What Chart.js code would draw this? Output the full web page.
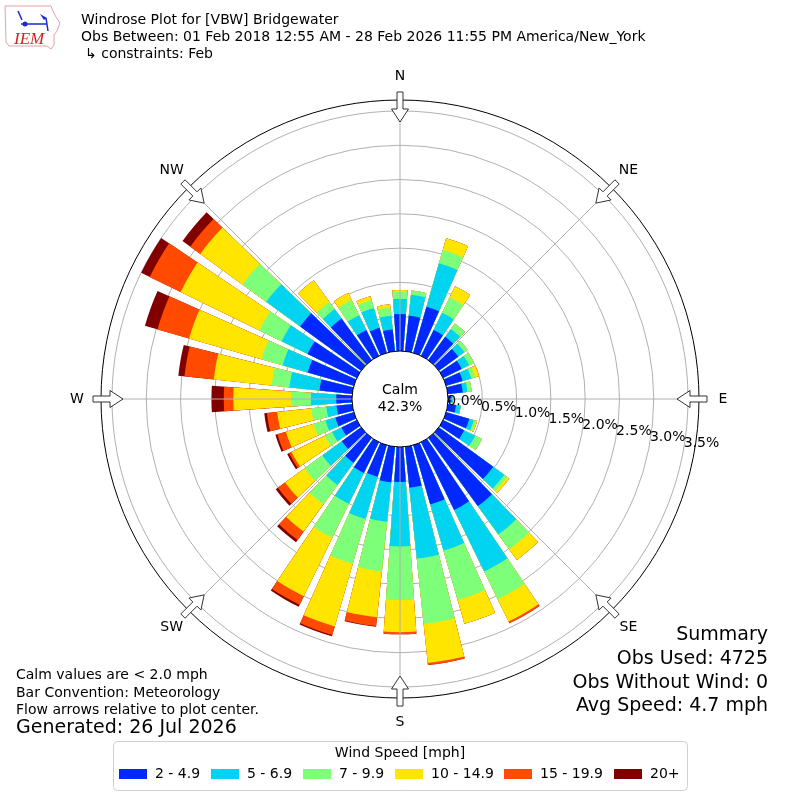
<!DOCTYPE html>
<html>
<head>
<meta charset="utf-8">
<title>Windrose VBW</title>
<script src="https://cdn.jsdelivr.net/npm/chart.js@4.4.1/dist/chart.umd.min.js"></script>
<style>
    html, body { margin: 0; padding: 0; background: #fff; }
</style>
</head>
<body>
<canvas id="graficoVento" width="800" height="800"></canvas>
<script>
// direcoes de 10 em 10 graus, valores em % das observacoes
const direcoes = [0, 10, 20, 30, 40, 50, 60, 70, 80, 90, 100, 110, 120, 130, 140, 150, 160, 170,
    180, 190, 200, 210, 220, 230, 240, 250, 260, 270, 280, 290, 300, 310, 320, 330, 340, 350];

const vel2a5 = [0.54, 0.52, 0.70, 0.42, 0.42, 0.35, 0.30, 0.25, 0.22, 0.05, 0.12, 0.35, 0.34, 0.98, 1.23, 1.10, 0.90, 0.60,
    0.51, 0.52, 0.48, 0.50, 0.45, 0.35, 0.25, 0.28, 0.23, 0.23, 0.48, 0.70, 0.80, 1.10, 0.75, 0.42, 0.38, 0.32];
const vel5a7 = [0.22, 0.31, 0.66, 0.28, 0.14, 0.11, 0.12, 0.13, 0.07, 0.02, 0.07, 0.07, 0.18, 0.20, 0.51, 1.00, 0.70, 1.04,
    0.94, 0.58, 0.64, 0.50, 0.40, 0.35, 0.15, 0.15, 0.15, 0.37, 0.44, 0.38, 0.42, 0.61, 0.17, 0.24, 0.30, 0.20];
const vel7a10 = [0.10, 0.06, 0.20, 0.25, 0.10, 0.06, 0.08, 0.06, 0.06, 0, 0, 0.03, 0.11, 0.05, 0.27, 0.45, 0.75, 0.96,
    0.78, 0.73, 0.68, 0.55, 0.35, 0.32, 0.12, 0.18, 0.22, 0.29, 0.26, 0.32, 0.36, 0.43, 0.13, 0.25, 0.12, 0.12];
const vel10a15 = [0.03, 0, 0.18, 0.18, 0, 0, 0, 0.06, 0, 0, 0, 0.02, 0, 0.04, 0.19, 0.36, 0.36, 0.57,
    0.47, 0.67, 0.95, 0.95, 0.49, 0.35, 0.54, 0.42, 0.50, 0.84, 0.85, 1.10, 1.28, 0.76, 0.39, 0.11, 0.06, 0.05];
const vel15a20 = [0, 0, 0, 0, 0, 0, 0, 0, 0, 0, 0, 0, 0, 0, 0, 0.03, 0, 0.03,
    0.03, 0.13, 0.13, 0.14, 0.15, 0.13, 0.04, 0.13, 0.15, 0.14, 0.43, 0.48, 0.50, 0.18, 0, 0, 0, 0];
const vel20mais = [0, 0, 0, 0, 0, 0, 0, 0, 0, 0, 0, 0, 0, 0, 0, 0, 0, 0,
    0, 0.01, 0.02, 0.03, 0.04, 0.04, 0.03, 0.03, 0.04, 0.18, 0.09, 0.19, 0.14, 0.14, 0, 0, 0, 0];

const faixas = ['2 - 4.9', '5 - 6.9', '7 - 9.9', '10 - 14.9', '15 - 19.9', '20+'];
const cores = ['#0028ff', '#00d4f0', '#7dff7a', '#ffe500', '#ff4a00', '#800000'];
const ticksPct = [0, 0.5, 1.0, 1.5, 2.0, 2.5, 3.0, 3.5];
const cardeais = ['N', 'NE', 'E', 'SE', 'S', 'SW', 'W', 'NW'];
const calmo = 42.3;

const MIN_R = -0.7;
const MAX_R = 3.66;
const FONTE = '"DejaVu Sans", sans-serif';

function acumular() {
    const series = [vel2a5, vel5a7, vel7a10, vel10a15, vel15a20, vel20mais];
    const acumuladas = [];
    let soma = direcoes.map(() => 0);
    for (let serie of series) {
        soma = soma.map((v, i) => v + serie[i]);
        acumuladas.push(soma.slice());
    }
    return acumuladas;
}

// cada direcao vira uma fatia de 8 graus seguida de um vao de 2 graus
function intercalar(valores) {
    const dados = [];
    valores.forEach(v => {
        dados.push(v);
        dados.push(MIN_R);
    });
    return dados;
}

function desenharLogo(ctx) {
    ctx.save();
    ctx.strokeStyle = '#e8a0a0';
    ctx.lineWidth = 1;
    ctx.beginPath();
    ctx.moveTo(5, 6);
    ctx.lineTo(51, 6);
    ctx.lineTo(53, 11);
    ctx.lineTo(56, 17);
    ctx.lineTo(60, 23);
    ctx.lineTo(57, 31);
    ctx.lineTo(54, 35);
    ctx.lineTo(54, 45);
    ctx.lineTo(51, 49);
    ctx.lineTo(47, 46);
    ctx.lineTo(9, 46);
    ctx.lineTo(6, 42);
    ctx.closePath();
    ctx.stroke();

    ctx.strokeStyle = '#1a2bd0';
    ctx.fillStyle = '#1a2bd0';
    ctx.lineWidth = 1.5;
    ctx.beginPath();
    ctx.moveTo(21, 24);
    ctx.lineTo(47, 24);
    ctx.moveTo(18, 11);
    ctx.lineTo(22, 20);
    ctx.moveTo(46, 18);
    ctx.lineTo(48, 31);
    ctx.stroke();
    ctx.beginPath();
    ctx.arc(25, 24, 2.5, 0, 2 * Math.PI);
    ctx.fill();
    ctx.beginPath();
    ctx.moveTo(40, 14);
    ctx.lineTo(47, 18);
    ctx.lineTo(44, 20);
    ctx.closePath();
    ctx.fill();

    ctx.fillStyle = '#d42020';
    ctx.font = 'italic 17px "Liberation Serif", serif';
    ctx.textAlign = 'left';
    ctx.textBaseline = 'alphabetic';
    ctx.fillText('IEM', 14, 44);
    ctx.restore();
}

function desenharSeta(ctx, cx, cy, grau) {
    const a = grau * Math.PI / 180;
    const ux = Math.sin(a), uy = -Math.cos(a);
    const nx = Math.cos(a), ny = Math.sin(a);
    const ponto = (r, w) => [cx + ux * r + nx * w, cy + uy * r + ny * w];
    const pontos = [
        ponto(277, 0), ponto(290, 8.5), ponto(290, 3), ponto(307, 3),
        ponto(307, -3), ponto(290, -3), ponto(290, -8.5)
    ];
    ctx.beginPath();
    ctx.moveTo(pontos[0][0], pontos[0][1]);
    for (let i = 1; i < pontos.length; i++) {
        ctx.lineTo(pontos[i][0], pontos[i][1]);
    }
    ctx.closePath();
    ctx.fillStyle = '#fff';
    ctx.fill();
    ctx.strokeStyle = '#333';
    ctx.lineWidth = 1;
    ctx.stroke();
}

function desenharLegenda(ctx) {
    ctx.save();
    ctx.beginPath();
    ctx.roundRect(113.5, 741.5, 574, 49, 4);
    ctx.fillStyle = '#fff';
    ctx.fill();
    ctx.strokeStyle = '#d0d0d0';
    ctx.lineWidth = 1;
    ctx.stroke();

    ctx.fillStyle = '#000';
    ctx.font = '14px ' + FONTE;
    ctx.textAlign = 'center';
    ctx.textBaseline = 'middle';
    ctx.fillText('Wind Speed [mph]', 400, 753);

    const inicioX = [119, 211, 303, 395, 504, 614];
    ctx.textAlign = 'left';
    faixas.forEach((faixa, i) => {
        ctx.fillStyle = cores[i];
        ctx.fillRect(inicioX[i], 769, 28, 10);
        ctx.fillStyle = '#000';
        ctx.fillText(faixa, inicioX[i] + 36, 774);
    });
    ctx.restore();
}

const decoracao = {
    id: 'decoracao',
    afterDraw(chart) {
        const ctx = chart.ctx;
        const escala = chart.scales.r;
        const cx = escala.xCenter;
        const cy = escala.yCenter;
        const raioCalmo = escala.getDistanceFromCenterForValue(0);
        const raioFora = escala.getDistanceFromCenterForValue(MAX_R);

        ctx.save();
        ctx.strokeStyle = '#b0b0b0';
        ctx.lineWidth = 1;
        for (let i = 0; i < 8; i++) {
            const a = i * Math.PI / 4;
            ctx.beginPath();
            ctx.moveTo(cx, cy);
            ctx.lineTo(cx + raioFora * Math.sin(a), cy - raioFora * Math.cos(a));
            ctx.stroke();
        }

        ctx.beginPath();
        ctx.arc(cx, cy, raioCalmo, 0, 2 * Math.PI);
        ctx.fillStyle = '#fff';
        ctx.fill();
        ctx.strokeStyle = '#000';
        ctx.stroke();

        ctx.fillStyle = '#000';
        ctx.font = '14px ' + FONTE;
        ctx.textAlign = 'center';
        ctx.textBaseline = 'middle';
        ctx.fillText('Calm', cx, cy - 9);
        ctx.fillText(calmo.toFixed(1) + '%', cx, cy + 8);

        // rotulos das porcentagens a 100 graus
        const angTick = 100 * Math.PI / 180;
        ctx.textAlign = 'left';
        ctx.textBaseline = 'bottom';
        ticksPct.forEach(v => {
            const rr = escala.getDistanceFromCenterForValue(v);
            ctx.fillText(v.toFixed(1) + '%', cx + rr * Math.sin(angTick), cy - rr * Math.cos(angTick) + 1);
        });

        cardeais.forEach((nome, i) => {
            desenharSeta(ctx, cx, cy, i * 45);
            const a = i * Math.PI / 4;
            ctx.fillStyle = '#000';
            ctx.textAlign = 'center';
            ctx.textBaseline = 'middle';
            ctx.fillText(nome, cx + 323 * Math.sin(a), cy - 323 * Math.cos(a));
        });

        ctx.textAlign = 'left';
        ctx.fillText('Windrose Plot for [VBW] Bridgewater', 81, 20);
        ctx.fillText('Obs Between: 01 Feb 2018 12:55 AM - 28 Feb 2026 11:55 PM America/New_York', 81, 37);
        ctx.fillText('\u21b3 constraints: Feb', 85, 54);

        ctx.fillText('Calm values are < 2.0 mph', 16, 675);
        ctx.fillText('Bar Convention: Meteorology', 16, 693);
        ctx.fillText('Flow arrows relative to plot center.', 16, 710);
        ctx.font = '19px ' + FONTE;
        ctx.fillText('Generated: 26 Jul 2026', 16, 728);

        ctx.textAlign = 'right';
        ctx.fillText('Summary', 768, 635);
        ctx.fillText('Obs Used: 4725', 768, 659);
        ctx.fillText('Obs Without Wind: 0', 768, 683);
        ctx.fillText('Avg Speed: 4.7 mph', 768, 706);
        ctx.restore();

        desenharLogo(ctx);
        desenharLegenda(ctx);
    }
};

const acumuladas = acumular();
const rotulos = [];
direcoes.forEach(d => {
    rotulos.push(d + '\u00b0');
    rotulos.push('');
});

const ctx = document.getElementById('graficoVento').getContext('2d');
const chart = new Chart(ctx, {
    type: 'polarArea',
    data: {
        labels: rotulos,
        datasets: acumuladas.map((serie, k) => ({
            label: faixas[k],
            data: intercalar(serie),
            backgroundColor: c => c.dataIndex % 2 === 0 ? cores[k] : 'rgba(0,0,0,0)',
            borderWidth: 0,
            angle: c => c.dataIndex % 2 === 0 ? 8 : 2
        }))
    },
    options: {
        responsive: false,
        animation: false,
        events: [],
        layout: {
            padding: { left: 101, right: 101, top: 100, bottom: 102 }
        },
        plugins: {
            legend: { display: false },
            tooltip: { enabled: false }
        },
        scales: {
            r: {
                min: MIN_R,
                max: MAX_R,
                startAngle: -4,
                z: 1,
                afterBuildTicks: escala => {
                    escala.ticks = ticksPct.concat([MAX_R]).map(v => ({ value: v }));
                },
                ticks: { display: false },
                pointLabels: { display: false },
                angleLines: { display: false },
                grid: {
                    circular: true,
                    color: c => c.tick && c.tick.value >= MAX_R ? '#000' : '#b0b0b0',
                    lineWidth: 1
                }
            }
        }
    },
    plugins: [decoracao]
});
</script>
</body>
</html>
